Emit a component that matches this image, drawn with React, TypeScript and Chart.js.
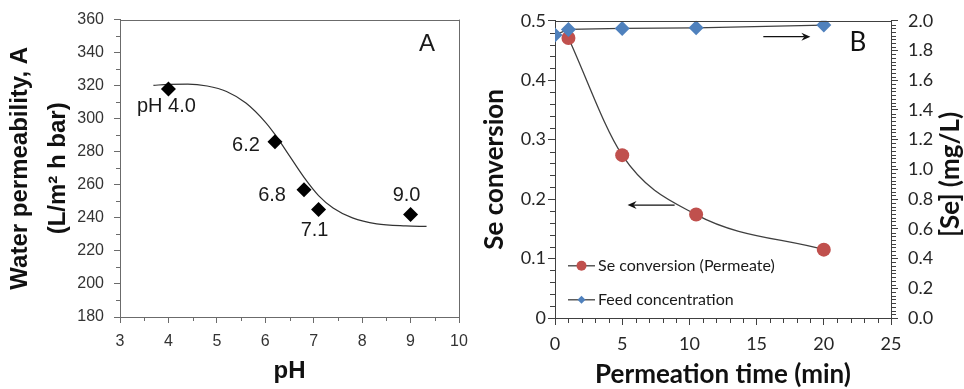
import React, { useEffect, useRef } from 'react';
import { Chart, registerables } from 'chart.js';
Chart.register(...registerables);

// ---------- Panel A data ----------
const phValues = [4.0, 6.2, 6.8, 7.1, 9.0];
const permeability = [318, 286, 257, 245, 242];
const phPointLabels = ['pH 4.0', '6.2', '6.8', '7.1', '9.0'];
const fitPh = [3.69, 4.0, 4.4, 4.8, 5.2, 5.6, 6.0, 6.2, 6.5, 6.8, 7.1, 7.4, 7.8, 8.3, 8.9, 9.33];
const fitPermeability = [320.2, 320.8, 321, 319.8, 316.5, 309.5, 298, 290.5, 277.5, 264.5, 253.5, 246, 240, 236.4, 235.1, 234.8];

// ---------- Panel B data ----------
const timeMin = [1, 5, 10.5, 20];
const seConversion = [0.471, 0.274, 0.174, 0.115];
const feedTimeMin = [0, 1, 5, 10.5, 20];
const feedSe = [1.905, 1.942, 1.949, 1.953, 1.971];

// label offsets (px) of the pH annotations relative to their points
const labelDx = [-2, -29, -32, -4, -4];
const labelDy = [17, 4, 6, 21, -19];

const FONT_A = '"Liberation Sans", Arial, sans-serif';
const FONT_B = 'Lato, "Open Sans", sans-serif';

const RED = '#C0504D';
const BLUE = '#4F81BD';

function hLine(ctx: CanvasRenderingContext2D, x1: number, x2: number, y: number) {
  const yy = Math.round(y) + 0.5;
  ctx.beginPath();
  ctx.moveTo(x1, yy);
  ctx.lineTo(x2, yy);
  ctx.stroke();
}
function vLine(ctx: CanvasRenderingContext2D, x: number, y1: number, y2: number) {
  const xx = Math.round(x) + 0.5;
  ctx.beginPath();
  ctx.moveTo(xx, y1);
  ctx.lineTo(xx, y2);
  ctx.stroke();
}
function arrow(ctx: CanvasRenderingContext2D, x1: number, y1: number, x2: number, y2: number) {
  const dir = Math.sign(x2 - x1);
  ctx.beginPath();
  ctx.moveTo(x1, y1);
  ctx.lineTo(x2 - dir * 6, y2);
  ctx.stroke();
  ctx.beginPath();
  ctx.moveTo(x2, y2);
  ctx.lineTo(x2 - dir * 9, y2 - 4);
  ctx.lineTo(x2 - dir * 6, y2);
  ctx.lineTo(x2 - dir * 9, y2 + 4);
  ctx.closePath();
  ctx.fill();
}

const decorA = {
  id: 'decorA',
  afterDraw(chart: any) {
    const { ctx, chartArea: a, scales } = chart;
    const sx = scales.x;
    const sy = scales.y;
    ctx.save();
    ctx.strokeStyle = '#6b6b6b';
    ctx.lineWidth = 1;
    // frame top + right
    hLine(ctx, a.left, a.right + 1, a.top);
    vLine(ctx, a.right, a.top, a.bottom);
    // minor ticks
    for (let v = 190; v < 360; v += 20) hLine(ctx, a.left - 4, a.left, sy.getPixelForValue(v));
    for (let v = 3.5; v < 10; v += 1) vLine(ctx, sx.getPixelForValue(v), a.bottom, a.bottom + 4);
    // point labels
    ctx.fillStyle = '#1a1a1a';
    ctx.font = `20px ${FONT_A}`;
    ctx.textAlign = 'center';
    ctx.textBaseline = 'middle';
    phValues.forEach((ph, i) => {
      ctx.fillText(phPointLabels[i], sx.getPixelForValue(ph) + labelDx[i], sy.getPixelForValue(permeability[i]) + labelDy[i]);
    });
    ctx.font = `24px ${FONT_A}`;
    ctx.fillText('A', a.right - 32, a.top + 25);
    ctx.restore();
  },
};

const decorB = {
  id: 'decorB',
  afterDraw(chart: any) {
    const { ctx, chartArea: a, scales } = chart;
    const sx = scales.x;
    const sy = scales.y;
    const sy1 = scales.y1;
    ctx.save();
    ctx.strokeStyle = '#404040';
    ctx.lineWidth = 1;
    hLine(ctx, a.left, a.right + 1, a.top);
    for (let v = 0; v < 0.5; v += 0.02) {
      if (Math.abs(v * 10 - Math.round(v * 10)) < 1e-6) continue;
      hLine(ctx, a.left - 5, a.left, sy.getPixelForValue(v));
    }
    for (let v = 0; v < 2; v += 0.025) {
      if (Math.abs(v * 5 - Math.round(v * 5)) < 1e-6) continue;
      hLine(ctx, a.right, a.right + 5, sy1.getPixelForValue(v));
    }
    for (let v = 1; v < 25; v += 1) {
      if (v % 5 === 0) continue;
      vLine(ctx, sx.getPixelForValue(v), a.bottom, a.bottom + 5);
    }
    // arrows
    ctx.strokeStyle = '#111';
    ctx.fillStyle = '#111';
    ctx.lineWidth = 1.2;
    arrow(ctx, sx.getPixelForValue(15.5), sy1.getPixelForValue(1.893), sx.getPixelForValue(19), sy1.getPixelForValue(1.893));
    arrow(ctx, sx.getPixelForValue(8.9), sy.getPixelForValue(0.19), sx.getPixelForValue(5.4), sy.getPixelForValue(0.19));
    // legend
    const ds = chart.data.datasets;
    const lx1 = a.left + 13;
    const lx2 = a.left + 40;
    const rows = [
      { y: a.top + 245, d: ds[0], shape: 'circle' },
      { y: a.top + 279, d: ds[1], shape: 'diamond' },
    ];
    ctx.font = `16px ${FONT_B}`;
    ctx.textAlign = 'left';
    ctx.textBaseline = 'middle';
    rows.forEach((r) => {
      ctx.strokeStyle = '#404040';
      ctx.lineWidth = 1.3;
      ctx.beginPath();
      ctx.moveTo(lx1, r.y);
      ctx.lineTo(lx2, r.y);
      ctx.stroke();
      const cx = (lx1 + lx2) / 2;
      ctx.fillStyle = r.d.backgroundColor;
      ctx.beginPath();
      if (r.shape === 'circle') {
        ctx.arc(cx, r.y, 5, 0, Math.PI * 2);
      } else {
        ctx.moveTo(cx - 4, r.y);
        ctx.lineTo(cx, r.y - 4);
        ctx.lineTo(cx + 4, r.y);
        ctx.lineTo(cx, r.y + 4);
        ctx.closePath();
      }
      ctx.fill();
      ctx.fillStyle = '#1a1a1a';
      ctx.fillText(r.d.label, lx2 + 3, r.y);
    });
    // right axis title (rotated -90)
    ctx.save();
    ctx.translate(chart.width - 13, (a.top + a.bottom) / 2 + 5);
    ctx.rotate(-Math.PI / 2);
    ctx.textAlign = 'center';
    ctx.textBaseline = 'middle';
    ctx.font = `bold 26px ${FONT_B}`;
    ctx.fillStyle = '#111';
    ctx.fillText('[Se] (mg/L)', 0, 0);
    ctx.restore();
    // panel letter
    ctx.fillStyle = '#111';
    ctx.font = `26px ${FONT_B}`;
    ctx.textAlign = 'center';
    ctx.textBaseline = 'middle';
    ctx.fillText('B', a.right - 33, a.top + 22);
    ctx.restore();
  },
};

function PanelA() {
  const ref = useRef<HTMLCanvasElement>(null);
  useEffect(() => {
    const tickFont = { family: FONT_A, size: 16 };
    const chart = new Chart(ref.current as HTMLCanvasElement, {
      type: 'scatter',
      data: {
        datasets: [
          {
            label: 'Water permeability',
            data: phValues.map((x, i) => ({ x, y: permeability[i] })),
            backgroundColor: '#000',
            borderColor: '#000',
            pointStyle: 'rectRot',
            pointRadius: 7.5,
            pointBorderWidth: 0,
            showLine: false,
            order: 0,
          },
          {
            label: 'Fit',
            data: fitPh.map((x, i) => ({ x, y: fitPermeability[i] })),
            borderColor: '#333',
            borderWidth: 1.2,
            pointRadius: 0,
            showLine: true,
            cubicInterpolationMode: 'monotone',
            order: 1,
          },
        ],
      },
      options: {
        responsive: false,
        animation: false,
        events: [],
        layout: { padding: { left: 0, right: 21, top: 18, bottom: 0 } },
        plugins: { legend: { display: false }, tooltip: { enabled: false } },
        scales: {
          x: {
            type: 'linear',
            min: 3,
            max: 10,
            ticks: { stepSize: 1, font: tickFont, color: '#333', padding: 9, maxRotation: 0 },
            grid: { display: true, drawOnChartArea: false, drawTicks: true, tickLength: 6, color: '#6b6b6b' },
            border: { display: true, color: '#6b6b6b', width: 1 },
            title: {
              display: true,
              text: 'pH',
              color: '#111',
              font: { family: FONT_A, size: 24, weight: 'bold', lineHeight: 1.2 },
              padding: { top: 0, bottom: 3 },
            },
            afterFit: (s: any) => { s.height = 72; },
          },
          y: {
            type: 'linear',
            min: 180,
            max: 360,
            ticks: { stepSize: 20, font: tickFont, color: '#333', padding: 10 },
            grid: { display: true, drawOnChartArea: false, drawTicks: true, tickLength: 6, color: '#6b6b6b' },
            border: { display: true, color: '#6b6b6b', width: 1 },
            title: {
              display: true,
              text: ['Water permeability, A', '(L/m\u00b2 h bar)'],
              color: '#111',
              font: { family: FONT_A, size: 24, weight: 'bold', lineHeight: 1.58 },
              padding: { top: 1, bottom: 0 },
            },
            afterFit: (s: any) => { s.width = 120; },
          },
        },
      } as any,
      plugins: [decorA],
    });
    return () => chart.destroy();
  }, []);
  return <canvas ref={ref} width={480} height={389} style={{ position: 'absolute', left: 0, top: 0 }} />;
}

function PanelB() {
  const ref = useRef<HTMLCanvasElement>(null);
  useEffect(() => {
    const tickFont = { family: FONT_B, size: 18 };
    const chart = new Chart(ref.current as HTMLCanvasElement, {
      type: 'scatter',
      data: {
        datasets: [
          {
            label: 'Se conversion (Permeate)',
            data: timeMin.map((x, i) => ({ x, y: seConversion[i] })),
            yAxisID: 'y',
            backgroundColor: RED,
            borderColor: '#404040',
            pointBackgroundColor: RED,
            pointBorderColor: RED,
            pointStyle: 'circle',
            pointRadius: 7,
            pointBorderWidth: 0,
            borderWidth: 1.3,
            showLine: true,
            cubicInterpolationMode: 'monotone',
            order: 1,
          },
          {
            label: 'Feed concentration',
            data: feedTimeMin.map((x, i) => ({ x, y: feedSe[i] })),
            yAxisID: 'y1',
            backgroundColor: BLUE,
            borderColor: '#404040',
            pointBackgroundColor: BLUE,
            pointBorderColor: BLUE,
            pointStyle: 'rectRot',
            pointRadius: 7.5,
            pointBorderWidth: 0,
            borderWidth: 1.3,
            showLine: true,
            order: 0,
          },
        ],
      },
      options: {
        responsive: false,
        animation: false,
        events: [],
        layout: { padding: { left: 0, right: 0, top: 18, bottom: 0 } },
        plugins: { legend: { display: false }, tooltip: { enabled: false } },
        scales: {
          x: {
            type: 'linear',
            min: 0,
            max: 25,
            ticks: { stepSize: 5, font: tickFont, color: '#262626', padding: 8, maxRotation: 0 },
            grid: { display: true, drawOnChartArea: false, drawTicks: true, tickLength: 7, color: '#404040' },
            border: { display: true, color: '#404040', width: 1 },
            title: {
              display: true,
              text: 'Permeation time (min)',
              color: '#111',
              font: { family: FONT_B, size: 26, weight: 'bold', lineHeight: 1.0 },
              padding: { top: 0, bottom: 1 },
            },
            afterFit: (s: any) => { s.height = 71; },
          },
          y: {
            type: 'linear',
            position: 'left',
            min: 0,
            max: 0.5,
            ticks: {
              stepSize: 0.1,
              font: tickFont,
              color: '#262626',
              padding: 2,
              callback: (v: any) => (v === 0 ? '0' : Number(v).toFixed(1)),
            },
            grid: { display: true, drawOnChartArea: false, drawTicks: true, tickLength: 7, color: '#404040' },
            border: { display: true, color: '#404040', width: 1 },
            title: {
              display: true,
              text: 'Se conversion',
              color: '#111',
              font: { family: FONT_B, size: 26, weight: 'bold', lineHeight: 1.0 },
              padding: { top: 2, bottom: 0 },
            },
            afterFit: (s: any) => { s.width = 75; },
          },
          y1: {
            type: 'linear',
            position: 'right',
            min: 0,
            max: 2,
            ticks: {
              stepSize: 0.2,
              font: tickFont,
              color: '#262626',
              padding: 10,
              callback: (v: any) => Number(v).toFixed(1),
            },
            grid: { display: true, drawOnChartArea: false, drawTicks: true, tickLength: 7, color: '#404040' },
            border: { display: true, color: '#404040', width: 1 },
            afterFit: (s: any) => { s.width = 73; },
          },
        },
      } as any,
      plugins: [decorB],
    });
    return () => chart.destroy();
  }, []);
  return <canvas ref={ref} width={484} height={389} style={{ position: 'absolute', left: 480, top: 0 }} />;
}

export default function App() {
  return (
    <div style={{ position: 'absolute', left: 0, top: 0, width: 964, height: 389, background: '#fff', overflow: 'hidden' }}>
      <PanelA />
      <PanelB />
    </div>
  );
}
